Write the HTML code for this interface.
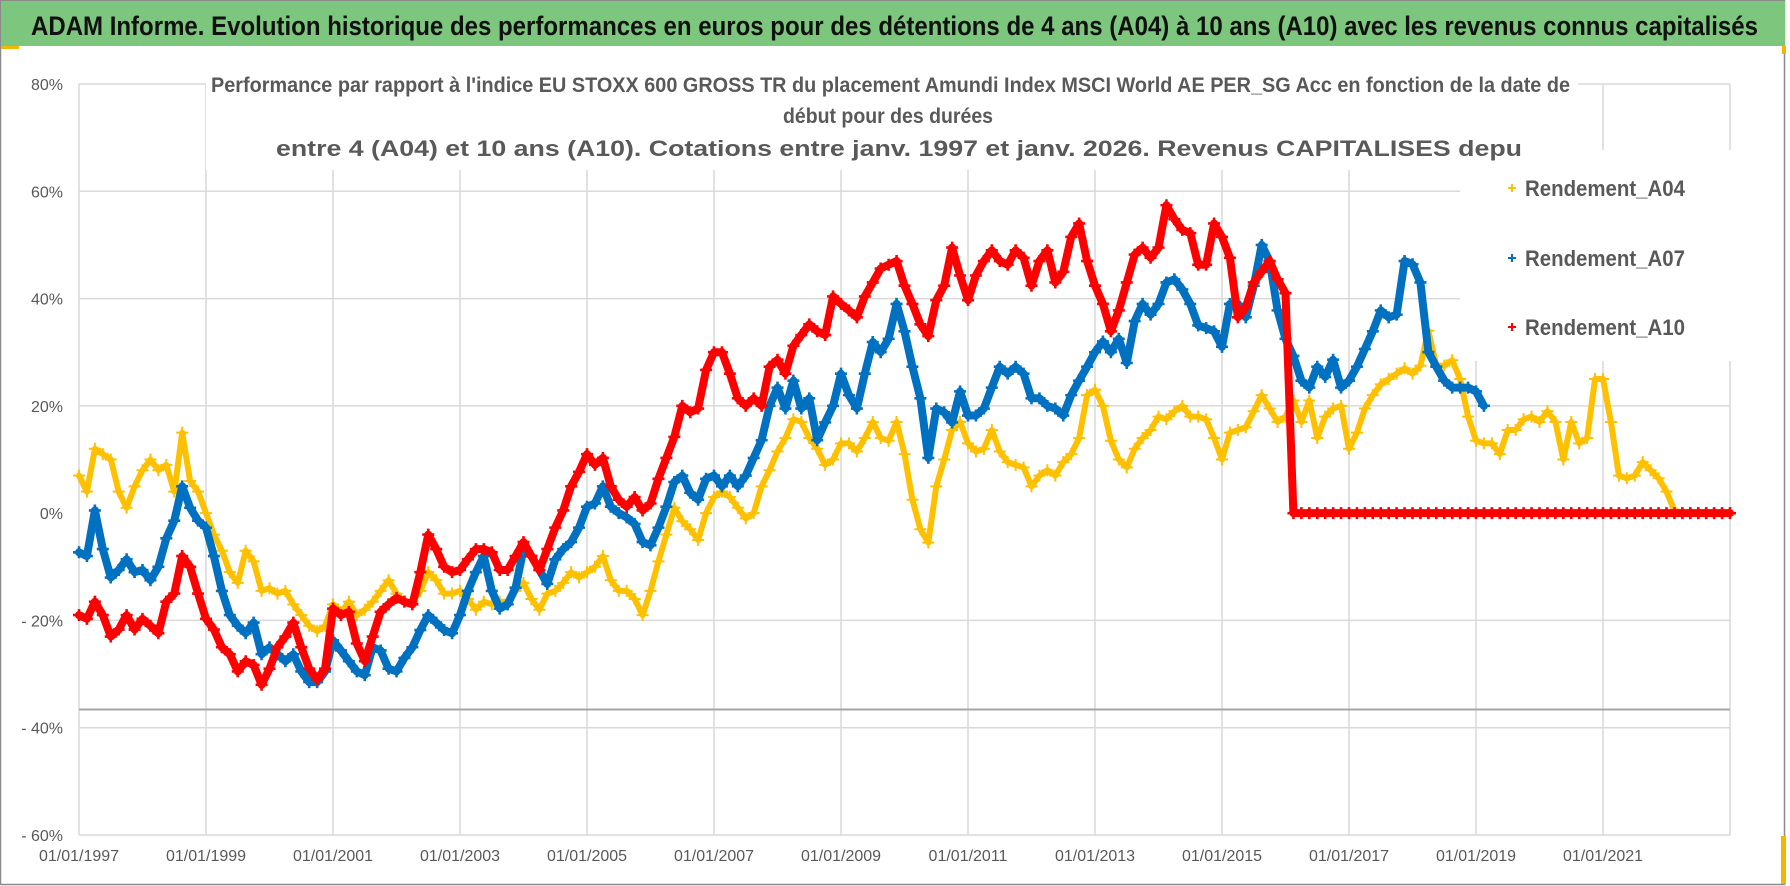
<!DOCTYPE html>
<html><head><meta charset="utf-8">
<style>
html,body{margin:0;padding:0;background:#fff;}
svg{display:block;font-family:"Liberation Sans",Arial,sans-serif;}
</style></head>
<body>
<svg id="chart" width="1790" height="886" viewBox="0 0 1790 886" xmlns="http://www.w3.org/2000/svg">
  <rect x="0" y="0" width="1790" height="886" fill="#fff"/>
  <rect x="0.5" y="0.5" width="1784" height="884" fill="none" stroke="#8a8a8a" stroke-width="1.5"/>
  <rect x="1" y="1" width="1784" height="45" fill="#7dc67e"/>
  <rect x="1" y="46" width="18" height="3" fill="#f2b800"/>
  <rect x="1782" y="46" width="4" height="8" fill="#f2b800"/>
  <rect x="1781" y="836" width="5" height="48" fill="#f2b800"/>
  <text x="31" y="35" font-size="27" font-weight="bold" fill="#111" textLength="1727" lengthAdjust="spacingAndGlyphs">ADAM Informe. Evolution historique des performances en euros pour des détentions de 4 ans (A04) à 10 ans (A10) avec les revenus connus capitalisés</text>
  <g id="grid"></g>
  <g id="series"></g>
  <rect x="206" y="62" width="1372" height="108" fill="#fff"/>
  <rect x="1460" y="150" width="300" height="211" fill="#fff"/>
  <g font-weight="bold" fill="#595959" font-size="21">
    <text x="211" y="92" textLength="1359" lengthAdjust="spacingAndGlyphs">Performance par rapport à l'indice EU STOXX 600 GROSS TR  du placement Amundi Index MSCI World AE PER_SG Acc en fonction de la date de</text>
    <text x="783" y="123" textLength="210" lengthAdjust="spacingAndGlyphs">début pour des durées</text>
    <text x="276" y="156" font-size="22" textLength="1246" lengthAdjust="spacingAndGlyphs">entre 4 (A04) et 10 ans (A10).  Cotations entre janv. 1997 et janv. 2026. Revenus CAPITALISES depu</text>
  </g>
  <g id="legend"></g>
  <g id="yaxis"></g>
  <g id="xaxis"></g>
</svg>
<script>
// ---- data ----
const startYear = 1997;
const stepYear = 0.125;
const xTickYears = [1997,1999,2001,2003,2005,2007,2009,2011,2013,2015,2017,2019,2021,2023];
const xTickLabels = ["01/01/1997","01/01/1999","01/01/2001","01/01/2003","01/01/2005","01/01/2007","01/01/2009","01/01/2011","01/01/2013","01/01/2015","01/01/2017","01/01/2019","01/01/2021",""];
const yTicks = [80,60,40,20,0,-20,-40,-60];
const yTickLabels = ["80%","60%","40%","20%","0%","- 20%","- 40%","- 60%"];
const axisCrossValue = -36.6;
const seriesNames = ["Rendement_A04","Rendement_A07","Rendement_A10"];
const a04Values = [
7,4,12,11,10,4,1,5,
8,10,8,9,4,15,6,4,
0,-4,-7,-11,-13,-7,-9,-14.5,
-14,-15,-14.5,-17,-19,-21,-22,-21,
-17,-18.5,-16.5,-19,-18,-16.5,-14.5,-12.5,
-15,-16.5,-16.5,-14.5,-11,-12.5,-15,-15,
-14.5,-16,-18,-16.5,-17,-16.5,-16.5,-14.5,
-13,-16,-18,-15,-14.5,-13,-11,-12,
-11,-10,-8,-12.5,-14.5,-14.5,-16,-19,
-14.5,-9,-4,1,-1.5,-3,-5,0,
3,4,3,1,-1,0,5,8,
11.5,14,17.5,17,14,12,9,10,
13,13,11.5,14,17,14,13.5,17,
11,2.5,-3,-5.5,5,10,15.5,17,
13,11.5,12,15.5,11.5,9.5,9,8.5,
5,7,8,7,9.5,11,14,22,
23,20,13.5,10,8.5,12,14,15.5,
18,17.5,19,20,18,18,17.5,14,
10,15,15.5,16,19,22,19.5,17,
18,21,17,21,14,18,19.5,20,
12,15,19.5,22,24,25,26,27,
26,27.5,34,27.5,27.5,28.5,25,18,
13.5,13,13,11,15.5,15.5,17.5,18,
17,19,17,10,17,13,14,25,
25,17,7,6.5,7,9.5,8,6.5,
4,0.5,0,0,0,0,0,0,
0
];
const a07Values = [
-7.3,-8,0.5,-6.7,-12,-10.6,-8.6,-11,
-10.6,-12.5,-10,-4.7,-1.4,5,1,-1.4,
-2.7,-8,-14.5,-19,-21,-22.4,-20.4,-26.3,
-25,-26.3,-27.6,-26.3,-29.5,-31.5,-31.5,-29.5,
-23.7,-25.6,-27.6,-29.5,-30.2,-25,-25.6,-29,
-29.5,-27,-25,-21.8,-19,-20.4,-21.8,-22.4,
-19,-14.5,-11,-8,-14.5,-17.8,-17,-13.9,
-6.7,-8,-10.6,-13.2,-8.6,-6.7,-5.4,-2.7,
1.2,1.8,5,1.2,0,-0.8,-2,-5.4,
-6,-2.7,1.2,5.8,7,3.8,2.5,6.4,
7,5,7,5,7,10.3,13.6,20,
23.4,19.5,24.7,19.5,21.4,13.6,16.9,20,
26,22,19.5,26,31.9,30,32.5,39,
33.9,27.3,21.4,10.3,19.5,18.8,16.9,22.7,
18.2,18.2,19.5,23.4,27.3,26,27.3,26,
21.4,21.4,20,19.5,18.2,22,24.7,27.3,
30,32,30,32.5,28,35.8,39,37,
39,43,43.6,41.7,39,35,34.5,33.9,
31,39,39,36.5,42.4,50,47,37.8,
32.5,29.3,24.7,23.4,27.3,25.4,28.6,23.4,
24.7,27.3,30.6,33.9,37.8,36.5,37,47,
46.4,43,30,27.3,24.7,23.4,23.4,23.4,
22.7,20
];
const a10Values = [
-19,-19.7,-16.5,-19,-23,-21.7,-19,-21.7,
-19.7,-21,-22.4,-16.5,-15,-8,-10,-15,
-19.7,-21.7,-25,-26.3,-29.5,-27.6,-28.3,-32,
-29,-25,-23,-20.4,-25,-29,-31,-29,
-17.8,-19,-18.4,-24.3,-27.6,-23,-18.4,-17,
-15.8,-16.5,-17,-11,-4,-6.7,-10,-11,
-10.6,-8.6,-6.7,-6.7,-7.3,-10.6,-10.6,-8,
-5.4,-8,-10.6,-6.7,-2.7,0.5,5,7.7,
11,9,10.3,5,2.5,1.2,3,0.5,
1.8,6.4,10.3,14.2,20,18.8,19.5,26.7,
30,30,26,21.4,20,21.4,20,27.3,
28.6,26,31.2,33.2,35.2,33.9,33.2,40.4,
39,37.8,36.5,40.4,43,45.6,46.3,47,
42.4,39,35.2,33,39.7,42.4,49.5,44.3,
39.7,44.3,47,49,47,46.3,49,47.6,
42.4,47,49,43,45,51.5,54,47,
42.4,39,33.9,37.8,43,48.2,49.5,47.6,
49.5,57.4,54.8,52.8,52.2,46.3,46.3,54,
51.5,47.6,36.5,38.4,43,45,47,43.6,
41,0,0,0,0,0,0,0,
0,0,0,0,0,0,0,0,
0,0,0,0,0,0,0,0,
0,0,0,0,0,0,0,0,
0,0,0,0,0,0,0,0,
0,0,0,0,0,0,0,0,
0,0,0,0,0,0,0,0,
0
];

// ---- scales ----
const NS = "http://www.w3.org/2000/svg";
const plotL = 79, plotR = 1730, yTop = 84, yBot = 835;
const xMin = 1997, xMax = 2023, vMax = 80, vMin = -60;
function xScale(yr){ return plotL + (yr - xMin) / (xMax - xMin) * (plotR - plotL); }
function yScale(v){ return yTop + (vMax - v) / (vMax - vMin) * (yBot - yTop); }
function mk(tag, attrs, parent){ const e = document.createElementNS(NS, tag); for (const k in attrs) e.setAttribute(k, attrs[k]); parent.appendChild(e); return e; }

const grid = document.getElementById('grid');
yTicks.forEach((t, i) => {
  if (t === 0) return;
  const y = yScale(t);
  const l = mk('line', {x1: plotL, x2: plotR, y1: y, y2: y, stroke: '#d9d9d9', 'stroke-width': 1.5}, grid);
  
  
});
xTickYears.forEach((yr) => {
  const x = xScale(yr);
  const l = mk('line', {x1: x, x2: x, y1: yTop, y2: yBot, stroke: '#d9d9d9', 'stroke-width': 1.5}, grid);
  
  
});
const ax = mk('line', {x1: plotL, x2: plotR, y1: yScale(axisCrossValue), y2: yScale(axisCrossValue), stroke: '#a6a6a6', 'stroke-width': 2}, grid);



const seriesLayer = document.getElementById('series');
const colors = ['#ffc000', '#0070c0', '#ff0000'];
const allSeries = [a04Values, a07Values, a10Values];
allSeries.forEach((vals, si) => {
  const g = mk('g', {}, seriesLayer);
  
  
  let pts = [];
  vals.forEach((v, i) => { pts.push(xScale(startYear + i * stepYear).toFixed(1) + ',' + yScale(v).toFixed(1)); });
  const pl = mk('polyline', {points: pts.join(' '), fill: 'none', stroke: colors[si], 'stroke-width': si === 0 ? 6 : 8, 'stroke-linejoin': 'round', 'stroke-linecap': 'round'}, g);
  
  
  vals.forEach((v, i) => {
    const x = xScale(startYear + i * stepYear), y = yScale(v), a = 6;
    const p = mk('path', {d: `M${x - a},${y}H${x + a}M${x},${y - a}V${y + a}`, stroke: colors[si], 'stroke-width': si === 0 ? 2 : 2.6, fill: 'none'}, g);
    
    
  });
});

const yaxis = document.getElementById('yaxis');
yTicks.forEach((t, i) => {
  const tx = mk('text', {x: 63, y: yScale(t) + 6, 'text-anchor': 'end', 'font-size': 16, fill: '#595959'}, yaxis);
  tx.textContent = yTickLabels[i];
  
  
});
const xaxis = document.getElementById('xaxis');
xTickYears.forEach((yr, i) => {
  if (!xTickLabels[i]) return;
  const tx = mk('text', {x: xScale(yr), y: 861, 'text-anchor': 'middle', 'font-size': 16, fill: '#595959'}, xaxis);
  tx.textContent = xTickLabels[i];
  
  
});

const legend = document.getElementById('legend');
const legendY = [188, 258, 327];
seriesNames.forEach((n, i) => {
  const g = mk('g', {}, legend);
  
  
  const m = mk('path', {d: `M1508,${legendY[i]}h8M1512,${legendY[i] - 4}v8`, stroke: colors[i], 'stroke-width': 2}, g);
  
  
  const t = mk('text', {x: 1525, y: legendY[i] + 8, 'font-size': 22, 'font-weight': 'bold', fill: '#595959', textLength: 160, lengthAdjust: 'spacingAndGlyphs'}, g);
  t.textContent = n;
  
  
});
</script>
</body></html>
